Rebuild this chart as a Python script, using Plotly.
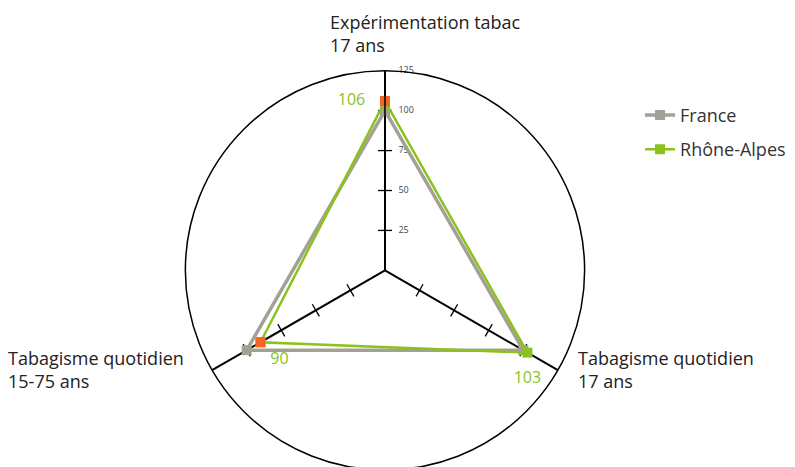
import plotly.graph_objects as go

axes = ["Expérimentation tabac<br>17 ans", "Tabagisme quotidien<br>17 ans", "Tabagisme quotidien<br>15-75 ans"]
france = [100, 100, 100]
rhone_alpes = [106, 103, 90]
ecart_signif = [True, False, True]
radial_ticks = [25, 50, 75, 100, 125]

gris = "#a3a194"
vert = "#8cc21e"
orange = "#f26522"

fig = go.Figure()

# petites graduations sur chaque branche
tick_r, tick_t, tick_a = [], [], []
for nom, ang in zip(axes, [0, -60, 60]):
    for v in radial_ticks[:4]:
        tick_r.append(v)
        tick_t.append(nom)
        tick_a.append(ang)
fig.add_trace(go.Scatterpolar(
    r=tick_r, theta=tick_t, mode="markers", showlegend=False, hoverinfo="skip",
    marker=dict(symbol="line-ew", size=10, angle=tick_a, line=dict(color="black", width=1.3))
))

# libellés de l'axe radial (à droite de la branche verticale)
fig.add_trace(go.Scatterpolar(
    r=radial_ticks, theta=[axes[0]] * len(radial_ticks), mode="markers+text", showlegend=False,
    hoverinfo="skip", text=[str(v) for v in radial_ticks], textposition="middle right",
    marker=dict(size=20, opacity=0),
    textfont=dict(size=9, color="#444")
))

fig.add_trace(go.Scatterpolar(
    r=france + france[:1], theta=axes + axes[:1], name="France", mode="lines+markers",
    line=dict(color=gris, width=3.5), marker=dict(symbol="square", size=10, color=gris),
    legendgroup="fr"
))

fig.add_trace(go.Scatterpolar(
    r=rhone_alpes + rhone_alpes[:1], theta=axes + axes[:1], name="Rhône-Alpes", mode="lines+markers",
    line=dict(color=vert, width=2.5), marker=dict(symbol="square", size=10, color=vert),
    legendgroup="ra"
))

# points significatifs en orange
fig.add_trace(go.Scatterpolar(
    r=[v for v, s in zip(rhone_alpes, ecart_signif) if s],
    theta=[a for a, s in zip(axes, ecart_signif) if s],
    mode="markers", showlegend=False,
    marker=dict(symbol="square", size=10, color=orange)
))
# valeurs Rhône-Alpes (marqueurs invisibles pour décaler le texte)
fig.add_trace(go.Scatterpolar(
    r=rhone_alpes, theta=axes, mode="markers+text", showlegend=False, hoverinfo="skip",
    marker=dict(size=[30, 28, 14], opacity=0),
    text=[str(v) for v in rhone_alpes],
    textposition=["middle left", "bottom center", "bottom right"],
    textfont=dict(color=vert, size=16)
))

fig.update_layout(
    width=795, height=467,
    margin=dict(l=0, r=0, t=0, b=0),
    paper_bgcolor="white",
    font=dict(family="Open Sans", color="#222"),
    polar=dict(
        domain=dict(x=[0.2226, 0.7258], y=[0.0107, 0.8657]),
        bgcolor="white",
        radialaxis=dict(range=[0, 125], tickvals=radial_ticks, angle=90,
                        showline=True, linecolor="black", linewidth=1.5, showgrid=False,
                        ticks="", showticklabels=False),
        angularaxis=dict(rotation=90, direction="clockwise", showline=True, linecolor="black",
                         linewidth=1.5, showgrid=True, gridcolor="black", gridwidth=1.5,
                         showticklabels=False, ticks="")
    ),
    legend=dict(x=0.795, y=0.81, xanchor="left", yanchor="top", font=dict(size=18, color="#333"),
                tracegroupgap=8, bgcolor="rgba(0,0,0,0)"),
    annotations=[
        dict(text="Expérimentation tabac<br>17 ans", x=0.403, y=1.0, xref="paper", yref="paper",
             xanchor="left", yanchor="top", align="left", showarrow=False, font=dict(size=18)),
        dict(text="Tabagisme quotidien<br>15-75 ans", x=-0.003, y=0.28, xref="paper", yref="paper",
             xanchor="left", yanchor="top", align="left", showarrow=False, font=dict(size=18)),
        dict(text="Tabagisme quotidien<br>17 ans", x=0.714, y=0.28, xref="paper", yref="paper",
             xanchor="left", yanchor="top", align="left", showarrow=False, font=dict(size=18)),
    ]
)

fig.write_html("out.html")
